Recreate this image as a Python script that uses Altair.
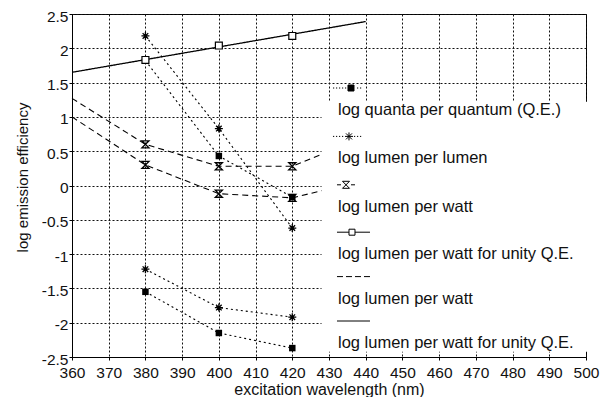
import altair as alt
import pandas as pd

# ---------------- data ----------------
wl = [380, 400, 420]
qe_a = [1.82, 0.43, -0.17]
qe_b = [-1.55, -2.15, -2.37]
lpl_a = [2.18, 0.83, -0.62]
lpl_b = [-1.22, -1.78, -1.92]
lpw_a = [0.60, 0.28, 0.28]
lpw_b = [0.30, -0.12, -0.18]
unity = [1.83, 2.04, 2.18]

fit_wl = [360, 380, 400, 420, 430]
fit_a = [1.27, 0.60, 0.28, 0.28, 0.50]
fit_b = [1.00, 0.30, -0.12, -0.18, -0.05]

unity_fit_wl = [360, 440]
unity_fit = [1.65, 2.39]

legend_labels = [
    "log quanta per quantum (Q.E.)",
    "log lumen per lumen",
    "log lumen per watt",
    "log lumen per watt for unity Q.E.",
    "log lumen per watt ",
    "log lumen per watt for unity Q.E. ",
]

x_ticks = list(range(360, 501, 10))
y_ticks = [-2.5, -2, -1.5, -1, -0.5, 0, 0.5, 1, 1.5, 2, 2.5]

# ---------------- styles ----------------
FONT = "Liberation Sans"
LABEL_SIZE = 16.5
ASTERISK = "M-1,0H1M0,-1V1M-0.7,-0.7L0.7,0.7M-0.7,0.7L0.7,-0.7"
HOURGLASS = "M-1,-1H1L-1,1H1Z"

# legend symbol geometry in pixels relative to the label start / label centre,
# converted to the unit space of a size-16 symbol (1 unit = 2 px)
SYM_DY = -22


def u(rx, dy=0.0):
    return f"{(LABEL_SIZE / 2 + rx) / 2:.2f},{(SYM_DY + dy) / 2:.2f}"


def seg(r0, r1, dy=0.0):
    return f"M{u(r0, dy)}L{u(r1, dy)}"


def box(rc, h):
    return f"M{u(rc - h, -h)}L{u(rc + h, -h)}L{u(rc + h, h)}L{u(rc - h, h)}Z"


def dotted(r0, r1, skip0, skip1):
    out = ""
    r = r0
    while r <= r1:
        if not (skip0 <= r <= skip1):
            out += seg(r, r + 1.2)
        r += 3
    return out


# invisible corner point that stretches the white legend box up and to the right
box_corner = f"M{u(247, -16)}Z"

sym_quanta = dotted(-5, 22, 9, 16.5) + box(13, 3) + box_corner
sym_lumen = (dotted(-5, 22, 7, 15) + seg(7, 15) + f"M{u(11, -4)}L{u(11, 4)}"
             + f"M{u(8, -3)}L{u(14, 3)}M{u(8, 3)}L{u(14, -3)}")
sym_watt = (seg(-1, 3) + seg(13, 17)
            + f"M{u(4.5, -3.5)}L{u(11.5, -3.5)}L{u(4.5, 3.5)}L{u(11.5, 3.5)}Z")
sym_unity = seg(-1, 11) + seg(17, 32) + box(14, 3)
sym_dash = seg(-1, 5) + seg(8, 14) + seg(17, 23) + seg(26, 32)
sym_solid = seg(-1, 32)
legend_symbols = [sym_quanta, sym_lumen, sym_watt, sym_unity, sym_dash, sym_solid]
legend_fill = ["black", "black", "white", "white", "white", "white"]
legend_stroke = ["black"] * 6

# ---------------- tables ----------------
line_defs = [
    ("qe_a", "dotted", wl, qe_a),
    ("qe_b", "dotted", wl, qe_b),
    ("lpl_a", "dotted", wl, lpl_a),
    ("lpl_b", "dotted", wl, lpl_b),
    ("fit_a", "dashed", fit_wl, fit_a),
    ("fit_b", "dashed", fit_wl, fit_b),
    ("unity_fit", "solid", unity_fit_wl, unity_fit),
]
rows = []
for lid, style, xs, ys in line_defs:
    for x, y in zip(xs, ys):
        rows.append({"x": x, "y": y, "line": lid, "style": style})
lines_df = pd.DataFrame(rows)

point_defs = [
    ("blob", wl, qe_a), ("blob", wl, qe_b),
    ("star", wl, lpl_a), ("star", wl, lpl_b),
    ("bowtie", wl, lpw_a), ("bowtie", wl, lpw_b),
    ("square", wl, unity),
]
prow = []
for m, xs, ys in point_defs:
    for x, y in zip(xs, ys):
        prow.append({"x": x, "y": y, "marker": m})
points_df = pd.DataFrame(prow)

legend_df = pd.DataFrame({"legend": legend_labels})

x_enc = alt.X(
    "x:Q",
    scale=alt.Scale(domain=[360, 500], nice=False, zero=False),
    axis=alt.Axis(
        values=x_ticks, title="excitation wavelength (nm)", format="d",
        grid=True, gridDash=[2, 2], gridColor="#111", gridWidth=1,
        domainColor="black", tickColor="black", tickSize=3, labelPadding=5,
        labelFont=FONT, labelFontSize=15.5, labelColor="#111",
        titleFont=FONT, titleFontSize=16, titleFontWeight="normal",
        titleColor="#111", titlePadding=0.5, labelFlush=False,
    ),
)
y_enc = alt.Y(
    "y:Q",
    scale=alt.Scale(domain=[-2.5, 2.5], nice=False, zero=False),
    axis=alt.Axis(
        values=y_ticks, title="log emission efficiency",
        labelExpr="datum.value + ''",
        grid=True, gridDash=[2, 2], gridColor="#111", gridWidth=1,
        domainColor="black", tickColor="black", tickSize=3, labelPadding=1,
        labelOffset=2,
        labelFont=FONT, labelFontSize=15.5, labelColor="#111",
        titleFont=FONT, titleFontSize=15, titleFontWeight="normal",
        titleColor="#111", titlePadding=11, titleY=163, labelFlush=False,
    ),
)

base_lines = alt.Chart(lines_df)
layers = []
for style, dash, sw in [("dotted", [2, 3], 1.1), ("dashed", [6, 4], 1.1), ("solid", [1, 0], 1.3)]:
    layers.append(
        base_lines.transform_filter(alt.datum.style == style)
        .mark_line(color="black", strokeWidth=sw, strokeDash=dash)
        .encode(x=x_enc, y=y_enc, detail="line:N")
    )

base_pts = alt.Chart(points_df)
marker_styles = [
    ("blob", dict(shape="square", size=42, filled=True, color="black")),
    ("star", dict(shape=ASTERISK, size=64, filled=False, color="black", strokeWidth=1.3)),
    ("bowtie", dict(shape=HOURGLASS, size=50, filled=False, color="black", strokeWidth=1.3)),
    ("square", dict(shape="square", size=48, filled=True, fill="white", stroke="black", strokeWidth=1.2)),
]
for m, kw in marker_styles:
    layers.append(
        base_pts.transform_filter(alt.datum.marker == m)
        .mark_point(opacity=1, **kw)
        .encode(x=x_enc, y=y_enc)
    )

leg = alt.Legend(
    title=None,
    orient="none", legendX=249.5, legendY=87.75,
    fillColor="white", padding=0, rowPadding=11.4,
    symbolSize=16, symbolStrokeColor="black", symbolStrokeWidth=1,
    symbolOpacity=1, labelOffset=0,
    labelFont=FONT, labelFontSize=LABEL_SIZE, labelColor="#111", labelLimit=0,
)
legend_layer = (
    alt.Chart(legend_df)
    .transform_filter("false")
    .mark_point(filled=True)
    .encode(
        shape=alt.Shape("legend:N", scale=alt.Scale(domain=legend_labels, range=legend_symbols), legend=leg),
        fill=alt.Fill("legend:N", scale=alt.Scale(domain=legend_labels, range=legend_fill), legend=leg),
        stroke=alt.Stroke("legend:N", scale=alt.Scale(domain=legend_labels, range=legend_stroke), legend=leg),
    )
)
layers.append(legend_layer)

chart = (
    alt.layer(*layers)
    .properties(
        width=514, height=343,
        autosize=alt.AutoSizeParams(type="none"),
        padding={"left": 64, "top": 6, "right": 14, "bottom": 40},
        background="white",
    )
    .configure_view(stroke="black", strokeWidth=1)
)

chart.save("out.html", embed_options={"renderer": "svg", "actions": False})
